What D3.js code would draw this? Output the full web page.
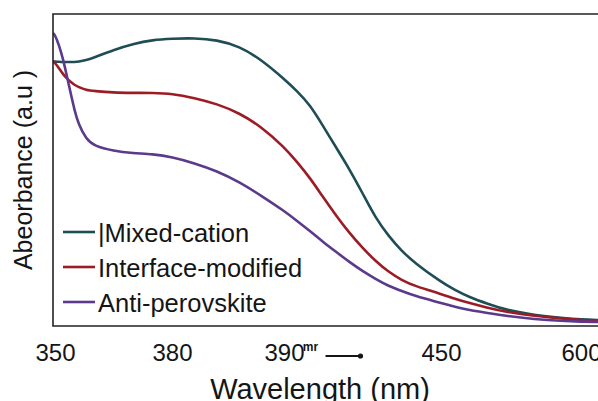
<!DOCTYPE html>
<html>
<head>
<meta charset="utf-8">
<script src="https://cdn.jsdelivr.net/npm/d3@7"></script>
<style>
  body { margin: 0; background: #fff; }
  text { font-family: "Liberation Sans", Arial, sans-serif; fill: #151515; }
</style>
</head>
<body>
<div class="chart"></div>
<script>
// Data (absorbance in arbitrary units)
var wavelengths = [349.5, 350, 351, 352, 353, 354, 355, 356, 358, 360, 365, 370, 375, 380, 382, 384, 386, 388, 390,
  395, 400, 405, 410, 415, 420, 425, 430, 435, 440, 450, 465, 480, 500, 520, 550, 580, 600, 620];
var mixedCation = [.849, .848, .847, .846, .846, .846, .846, .847, .852, .860, .885, .904, .917, .921, .923, .917, .897, .853, .792,
  .753, .708, .640, .571, .503, .426, .346, .288, .240, .202, .141, .115, .093, .071, .051, .035, .026, .021, .019];
var interfaceModified = [.849, .843, .827, .808, .794, .782, .773, .766, .756, .753, .748, .747, .747, .745, .731, .712, .683, .638, .574,
  .526, .474, .412, .353, .298, .250, .208, .173, .147, .128, .103, .087, .074, .058, .045, .032, .024, .019, .016];
var antiPerovskite = [.939, .933, .901, .859, .804, .747, .692, .647, .599, .577, .561, .554, .551, .542, .522, .497, .462, .417, .369,
  .337, .304, .269, .237, .205, .176, .151, .128, .112, .096, .074, .061, .051, .042, .032, .022, .016, .014, .013];
var seriesNames = ["|Mixed-cation", "Interface-modified", "Anti-perovskite"];
var seriesColors = ["#1f4d56", "#9c1c26", "#5b3a8c"];
var xTicks = [350, 380, 390, 450, 600];

var svgWidth = 598;
var svgHeight = 401;

var svg = d3.select(".chart")
  .append("svg")
  .attr("width", svgWidth)
  .attr("height", svgHeight);

// The printed axis is not evenly spaced, so a piecewise scale follows the tick positions
var xScale = d3.scaleLinear()
  .domain([349.5, 350, 380, 390, 450, 600, 620])
  .range([53, 55, 172, 284, 441, 581, 600]);
var yScale = d3.scaleLinear()
  .domain([0, 1])
  .range([326, 14]);

var allSeries = [mixedCation, interfaceModified, antiPerovskite];

// curves
var line = d3.line()
  .x(function(d) { return xScale(d[0]); })
  .y(function(d) { return yScale(d[1]); })
  .curve(d3.curveBasis);

svg.append("clipPath").attr("id", "clip")
  .append("rect").attr("x", 53).attr("y", 14).attr("width", 560).attr("height", 312);

svg.append("g")
  .attr("clip-path", "url(#clip)")
  .selectAll("path")
  .data(allSeries)
  .enter().append("path")
    .attr("d", function(vals) { return line(d3.zip(wavelengths, vals)); })
    .attr("fill", "none")
    .attr("stroke", function(d, i) { return seriesColors[i]; })
    .attr("stroke-width", 2.6)
    .attr("stroke-linejoin", "round");

// frame: left, top and bottom (right side runs off the picture)
svg.append("path")
  .attr("d", "M600,14H53V326H600")
  .attr("fill", "none")
  .attr("stroke", "#222")
  .attr("stroke-width", 1.6);

// x axis
var bottomAxis = d3.axisBottom(xScale)
  .tickValues(xTicks)
  .tickSize(0)
  .tickPadding(18)
  .tickFormat(d3.format("d"));

var xAxis = svg.append("g")
  .attr("transform", "translate(0,326)")
  .call(bottomAxis);
xAxis.select(".domain").remove();
xAxis.selectAll("text")
  .attr("font-size", "24px")
  .attr("fill", "#151515");

// stray mark printed after the 390 label
var odd = xAxis.selectAll(".tick").filter(function(d) { return d === 390; });
odd.append("text")
  .attr("x", 26)
  .attr("y", 25)
  .attr("font-size", "12px")
  .attr("font-weight", "bold")
  .attr("font-family", "'DejaVu Serif', serif")
  .text("mr");
odd.append("line")
  .attr("x1", 41).attr("x2", 75)
  .attr("y1", 30).attr("y2", 30)
  .attr("stroke", "#151515")
  .attr("stroke-width", 2.2);
odd.append("circle")
  .attr("cx", 76).attr("cy", 30).attr("r", 2.6)
  .attr("fill", "#151515");

// axis titles
svg.append("text")
  .attr("x", 320)
  .attr("y", 399)
  .attr("text-anchor", "middle")
  .attr("font-size", "29px")
  .text("Wavelength (nm)");

svg.append("text")
  .attr("transform", "translate(32,170) rotate(-90)")
  .attr("text-anchor", "middle")
  .attr("font-size", "25px")
  .text("Abeorbance (a.u )");

// legend
var legend = svg.append("g")
  .selectAll("g")
  .data(seriesNames)
  .enter().append("g")
    .attr("transform", function(d, i) { return "translate(63," + (232 + i * 35) + ")"; });

legend.append("line")
  .attr("x1", 0).attr("x2", 32)
  .attr("stroke", function(d, i) { return seriesColors[i]; })
  .attr("stroke-width", 2.6);

legend.append("text")
  .attr("x", 35)
  .attr("y", 10)
  .attr("font-size", "25.5px")
  .text(function(d) { return d; });
</script>
</body>
</html>
